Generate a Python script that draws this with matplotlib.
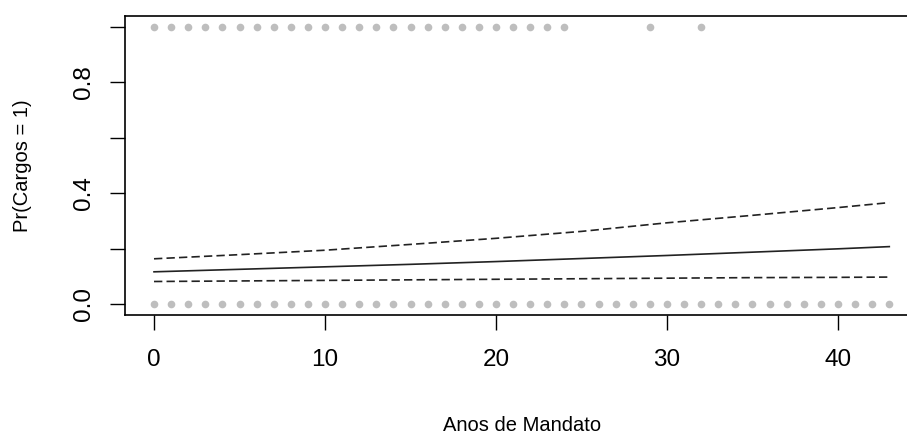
import numpy as np
import matplotlib
matplotlib.use("Agg")
import matplotlib.pyplot as plt

plt.rcParams['font.family'] = ['Liberation Sans', 'DejaVu Sans']

# observacoes (Cargos = 1 e Cargos = 0)
anos_cargo1 = list(range(0, 25)) + [29, 32]
anos_cargo0 = list(range(0, 44))

# curva prevista e intervalo
anos_curva = [0, 5, 10, 15, 20, 25, 30, 35, 40, 43]
prob_media = [0.116, 0.125, 0.134, 0.143, 0.153, 0.164, 0.175, 0.187, 0.199, 0.207]
prob_sup = [0.163, 0.178, 0.194, 0.215, 0.237, 0.262, 0.293, 0.320, 0.348, 0.366]
prob_inf = [0.081, 0.083, 0.085, 0.087, 0.089, 0.091, 0.093, 0.095, 0.096, 0.097]

xticks = [0, 10, 20, 30, 40]
yticks = [0.0, 0.2, 0.4, 0.6, 0.8, 1.0]
ytick_labels = ['0.0', '', '0.4', '', '0.8', '']

W, H = 907, 434
fig = plt.figure(figsize=(W / 100, H / 100), dpi=100)
# eixo estendido para a direita, como no original (cortado na borda)
left, right, top, bottom = 124.6, 918.7, 16, 315
ax = fig.add_axes([left / W, 1 - bottom / H, (right - left) / W, (bottom - top) / H])

ax.plot(anos_cargo1, [1] * len(anos_cargo1), 'o', color='#BEBEBE', markersize=5.5, markeredgewidth=0)
ax.plot(anos_cargo0, [0] * len(anos_cargo0), 'o', color='#BEBEBE', markersize=5.5, markeredgewidth=0)

ax.plot(anos_curva, prob_media, color='#222222', lw=1.2)
ax.plot(anos_curva, prob_sup, color='#222222', lw=1.2, dashes=(5, 2.5))
ax.plot(anos_curva, prob_inf, color='#222222', lw=1.2, dashes=(5, 2.5))

ax.set_xlim(-1.72, 44.72)
ax.set_ylim(-0.04, 1.04)
ax.set_xticks(xticks)
ax.set_yticks(yticks)
ax.set_yticklabels(ytick_labels, rotation=90, va='center')

ax.tick_params(axis='both', direction='out', length=10.5, width=1, colors='black', labelsize=17.5)
ax.tick_params(axis='x', pad=14)
ax.tick_params(axis='y', pad=11)
for s in ax.spines.values():
    s.set_linewidth(1.2)
    s.set_color('black')

ax.set_xlabel('Anos de Mandato', fontsize=14.5)
ax.xaxis.set_label_coords(0.5, -0.368)
ax.xaxis.label.set_va('center')
ax.set_ylabel('Pr(Cargos = 1)', fontsize=14.5, va='center')
ax.yaxis.set_label_coords((22 - left) / (right - left), 0.5)

fig.savefig('out.png', dpi=100)
